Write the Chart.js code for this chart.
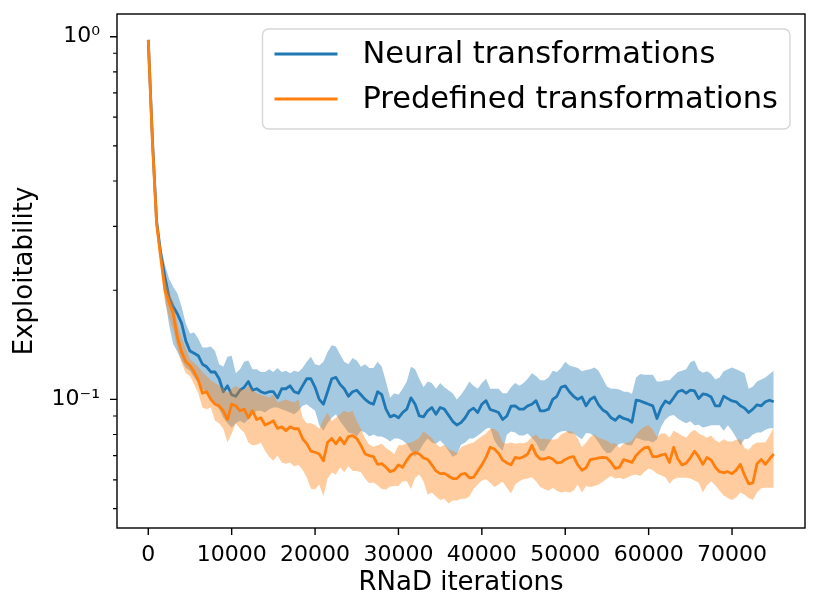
<!DOCTYPE html>
<html>
<head>
<meta charset="utf-8">
<script src="https://cdn.jsdelivr.net/npm/chart.js@4.4.1/dist/chart.umd.min.js"></script>
<style>
  html, body { margin: 0; padding: 0; background: #fff; }
  #chart { display: block; }
</style>
</head>
<body>
<canvas id="chart" width="822" height="613"></canvas>
<script>
// RNaD iteration of every logged point
const ITERATIONS = [
  0, 500, 1000, 1500, 2000, 2500, 3000, 3500, 4000, 4500,
  5000, 5500, 6000, 6500, 7000, 7500, 8000, 8500, 9000, 9500,
  10000, 10500, 11000, 11500, 12000, 12500, 13000, 13500, 14000, 14500,
  15000, 15500, 16000, 16500, 17000, 17500, 18000, 18500, 19000, 19500,
  20000, 20500, 21000, 21500, 22000, 22500, 23000, 23500, 24000, 24500,
  25000, 25500, 26000, 26500, 27000, 27500, 28000, 28500, 29000, 29500,
  30000, 30500, 31000, 31500, 32000, 32500, 33000, 33500, 34000, 34500,
  35000, 35500, 36000, 36500, 37000, 37500, 38000, 38500, 39000, 39500,
  40000, 40500, 41000, 41500, 42000, 42500, 43000, 43500, 44000, 44500,
  45000, 45500, 46000, 46500, 47000, 47500, 48000, 48500, 49000, 49500,
  50000, 50500, 51000, 51500, 52000, 52500, 53000, 53500, 54000, 54500,
  55000, 55500, 56000, 56500, 57000, 57500, 58000, 58500, 59000, 59500,
  60000, 60500, 61000, 61500, 62000, 62500, 63000, 63500, 64000, 64500,
  65000, 65500, 66000, 66500, 67000, 67500, 68000, 68500, 69000, 69500,
  70000, 70500, 71000, 71500, 72000, 72500, 73000, 73500, 74000, 74500,
  75000
];

const NEURAL_MEAN = [
  0.98, 0.52, 0.31, 0.252, 0.217, 0.191, 0.18, 0.172, 0.162, 0.145,
  0.136, 0.134, 0.132, 0.125, 0.123, 0.119, 0.119, 0.114, 0.105, 0.109,
  0.103, 0.102, 0.106, 0.108, 0.112, 0.106, 0.107, 0.105, 0.104, 0.105,
  0.105, 0.101, 0.107, 0.107, 0.109, 0.105, 0.104, 0.109, 0.114, 0.114,
  0.108, 0.100, 0.097, 0.105, 0.114, 0.115, 0.110, 0.107, 0.102, 0.105,
  0.106, 0.103, 0.100, 0.098, 0.097, 0.105, 0.103, 0.094, 0.0895, 0.0905,
  0.089, 0.092, 0.094, 0.101, 0.097, 0.090, 0.0895, 0.093, 0.095, 0.091,
  0.095, 0.094, 0.0905, 0.087, 0.085, 0.0863, 0.089, 0.093, 0.0946, 0.092,
  0.097, 0.0992, 0.0938, 0.093, 0.092, 0.088, 0.090, 0.0958, 0.096, 0.094,
  0.094, 0.096, 0.097, 0.0992, 0.093, 0.093, 0.094, 0.100, 0.102, 0.108,
  0.109, 0.105, 0.102, 0.100, 0.1015, 0.096, 0.100, 0.1015, 0.0966, 0.0935,
  0.092, 0.089, 0.0876, 0.090, 0.0886, 0.088, 0.0865, 0.0995, 0.099, 0.098,
  0.097, 0.096, 0.0886, 0.095, 0.099, 0.0975, 0.101, 0.105, 0.106, 0.104,
  0.106, 0.1055, 0.1005, 0.1035, 0.103, 0.1015, 0.096, 0.096, 0.102, 0.1005,
  0.099, 0.0985, 0.096, 0.0946, 0.092, 0.094, 0.0966, 0.096, 0.0985, 0.0995,
  0.0985
];
const NEURAL_UPPER = [
  0.985, 0.54, 0.325, 0.265, 0.235, 0.215, 0.204, 0.196, 0.18, 0.162,
  0.152, 0.153, 0.147, 0.139, 0.139, 0.14, 0.136, 0.125, 0.123, 0.131,
  0.132, 0.118, 0.121, 0.127, 0.128, 0.121, 0.121, 0.119, 0.119, 0.121,
  0.119, 0.122, 0.119, 0.12, 0.118, 0.12, 0.119, 0.122, 0.127, 0.131,
  0.125, 0.124, 0.127, 0.135, 0.141, 0.14, 0.133, 0.127, 0.125, 0.13,
  0.128, 0.123, 0.125, 0.122, 0.122, 0.127, 0.123, 0.112, 0.101, 0.104,
  0.103, 0.107, 0.112, 0.123, 0.121, 0.114, 0.108, 0.112, 0.111, 0.107,
  0.111, 0.108, 0.106, 0.104, 0.1, 0.103, 0.107, 0.112, 0.109, 0.107,
  0.111, 0.114, 0.107, 0.107, 0.107, 0.104, 0.104, 0.108, 0.111, 0.109,
  0.111, 0.114, 0.118, 0.116, 0.113, 0.113, 0.115, 0.12, 0.119, 0.122,
  0.127, 0.124, 0.123, 0.122, 0.1195, 0.1205, 0.121, 0.1225, 0.12, 0.114,
  0.1085, 0.107, 0.107, 0.1065, 0.105, 0.105, 0.1035, 0.115, 0.1175, 0.117,
  0.117, 0.117, 0.112, 0.112, 0.113, 0.113, 0.116, 0.119, 0.12, 0.121,
  0.1265, 0.128, 0.1205, 0.1185, 0.1195, 0.1175, 0.1135, 0.115, 0.1195, 0.121,
  0.1225, 0.121, 0.1195, 0.118, 0.107, 0.1085, 0.112, 0.1135, 0.115, 0.1175,
  0.12
];
const NEURAL_LOWER = [
  0.975, 0.50, 0.298, 0.24, 0.19, 0.16, 0.142, 0.135, 0.128, 0.122,
  0.12, 0.115, 0.111, 0.107, 0.104, 0.1, 0.097, 0.094, 0.089, 0.086,
  0.0837, 0.086, 0.0873, 0.086, 0.088, 0.091, 0.093, 0.093, 0.092, 0.094,
  0.095, 0.095, 0.094, 0.093, 0.092, 0.091, 0.093, 0.096, 0.097, 0.095,
  0.093, 0.085, 0.082, 0.086, 0.089, 0.091, 0.087, 0.084, 0.081, 0.0805,
  0.079, 0.082, 0.081, 0.079, 0.08, 0.079, 0.079, 0.078, 0.0765, 0.078,
  0.078, 0.077, 0.0754, 0.0722, 0.0695, 0.0722, 0.0754, 0.078, 0.076, 0.0754,
  0.077, 0.075, 0.0722, 0.0695, 0.0705, 0.075, 0.076, 0.078, 0.078, 0.0795,
  0.081, 0.083, 0.0835, 0.077, 0.074, 0.0722, 0.08, 0.0815, 0.081, 0.0795,
  0.0795, 0.0805, 0.0784, 0.076, 0.0722, 0.0722, 0.0754, 0.0784, 0.0805, 0.0815,
  0.082, 0.0805, 0.0805, 0.079, 0.0776, 0.0808, 0.0805, 0.079, 0.076, 0.073,
  0.071, 0.0714, 0.0738, 0.0754, 0.0757, 0.0747, 0.0747, 0.0784, 0.0776, 0.0769,
  0.0769, 0.076, 0.0776, 0.084, 0.088, 0.09, 0.0905, 0.0886, 0.087, 0.086,
  0.087, 0.0848, 0.0852, 0.0836, 0.0842, 0.0848, 0.0848, 0.0848, 0.082, 0.0848,
  0.082, 0.0784, 0.0747, 0.0776, 0.078, 0.08, 0.081, 0.081, 0.0825, 0.0832,
  0.0832
];

const PREDEFINED_MEAN = [
  0.98, 0.51, 0.305, 0.245, 0.2, 0.185, 0.172, 0.148, 0.135, 0.127,
  0.124, 0.119, 0.113, 0.104, 0.105, 0.1, 0.097, 0.096, 0.093, 0.088,
  0.097, 0.096, 0.093, 0.094, 0.089, 0.093, 0.088, 0.089, 0.085, 0.086,
  0.0873, 0.0832, 0.084, 0.082, 0.084, 0.083, 0.083, 0.078, 0.0755, 0.072,
  0.0715, 0.0707, 0.0677, 0.0762, 0.078, 0.0754, 0.0784, 0.0754, 0.079, 0.0795,
  0.078, 0.0747, 0.0707, 0.07, 0.0695, 0.0662, 0.0665, 0.065, 0.0632, 0.0638,
  0.066, 0.065, 0.068, 0.0704, 0.0714, 0.0707, 0.069, 0.0683, 0.066, 0.0635,
  0.0624, 0.0625, 0.0615, 0.0605, 0.0605, 0.0621, 0.0625, 0.0608, 0.061, 0.0635,
  0.066, 0.0692, 0.0738, 0.073, 0.071, 0.068, 0.0668, 0.066, 0.0692, 0.0688,
  0.0695, 0.0707, 0.0747, 0.0704, 0.0685, 0.0685, 0.0692, 0.0685, 0.0668, 0.067,
  0.0683, 0.0692, 0.0695, 0.066, 0.0638, 0.0648, 0.0682, 0.0685, 0.069, 0.0692,
  0.069, 0.067, 0.0645, 0.065, 0.0682, 0.0677, 0.067, 0.07, 0.072, 0.0735,
  0.0738, 0.0695, 0.0695, 0.0702, 0.0707, 0.067, 0.0738, 0.0685, 0.066, 0.0667,
  0.069, 0.072, 0.0695, 0.0662, 0.0692, 0.068, 0.065, 0.0632, 0.0628, 0.0632,
  0.0624, 0.0638, 0.0662, 0.0618, 0.0585, 0.0589, 0.0665, 0.0683, 0.0662, 0.0685,
  0.0707
];
const PREDEFINED_UPPER = [
  0.985, 0.53, 0.318, 0.26, 0.215, 0.198, 0.185, 0.162, 0.148, 0.138,
  0.129, 0.126, 0.123, 0.119, 0.116, 0.113, 0.111, 0.109, 0.107, 0.104,
  0.107, 0.109, 0.107, 0.106, 0.109, 0.106, 0.104, 0.103, 0.102, 0.101,
  0.103, 0.098, 0.099, 0.1, 0.099, 0.098, 0.1, 0.089, 0.086, 0.086,
  0.085, 0.083, 0.088, 0.092, 0.087, 0.089, 0.091, 0.093, 0.092, 0.093,
  0.087, 0.083, 0.078, 0.075, 0.074, 0.0747, 0.0755, 0.0735, 0.0722, 0.0707,
  0.0747, 0.0747, 0.0757, 0.076, 0.077, 0.0784, 0.0815, 0.08, 0.0784, 0.0754,
  0.0738, 0.075, 0.073, 0.0722, 0.071, 0.0738, 0.0747, 0.0754, 0.076, 0.0776,
  0.0792, 0.0805, 0.083, 0.083, 0.081, 0.076, 0.0754, 0.076, 0.0754, 0.0758,
  0.0757, 0.0765, 0.0788, 0.08, 0.0776, 0.078, 0.0775, 0.0775, 0.0776, 0.08,
  0.081, 0.082, 0.081, 0.078, 0.0738, 0.076, 0.0788, 0.08, 0.0784, 0.0776,
  0.0769, 0.0754, 0.0758, 0.0735, 0.0754, 0.076, 0.0769, 0.08, 0.0825, 0.0842,
  0.0848, 0.0825, 0.0788, 0.0805, 0.0805, 0.0784, 0.082, 0.0808, 0.0795, 0.0784,
  0.081, 0.0825, 0.0805, 0.0795, 0.0784, 0.0795, 0.0772, 0.076, 0.0776, 0.0765,
  0.0765, 0.0774, 0.0776, 0.0735, 0.0725, 0.075, 0.076, 0.076, 0.076, 0.0795,
  0.0836
];
const PREDEFINED_LOWER = [
  0.975, 0.49, 0.292, 0.235, 0.185, 0.168, 0.155, 0.138, 0.126, 0.118,
  0.116, 0.11, 0.104, 0.095, 0.094, 0.095, 0.0873, 0.086, 0.083, 0.076,
  0.0805, 0.086, 0.083, 0.081, 0.076, 0.0747, 0.075, 0.076, 0.0722, 0.0695,
  0.0677, 0.07, 0.067, 0.0665, 0.067, 0.0653, 0.066, 0.064, 0.0609, 0.0567,
  0.0565, 0.0583, 0.0541, 0.0604, 0.063, 0.062, 0.065, 0.063, 0.0655, 0.0635,
  0.0635, 0.063, 0.0604, 0.0587, 0.059, 0.058, 0.0566, 0.0564, 0.0575, 0.0577,
  0.0577, 0.0595, 0.0595, 0.0566, 0.0608, 0.0621, 0.0595, 0.0546, 0.0554, 0.054,
  0.0528, 0.0532, 0.0516, 0.0526, 0.0526, 0.0532, 0.0532, 0.054, 0.0566, 0.0583,
  0.0598, 0.0602, 0.0589, 0.0573, 0.0583, 0.0593, 0.0571, 0.055, 0.0583, 0.0595,
  0.0602, 0.0605, 0.061, 0.0595, 0.0573, 0.0566, 0.056, 0.0571, 0.056, 0.0554,
  0.0557, 0.0554, 0.056, 0.0583, 0.0554, 0.0577, 0.0573, 0.0577, 0.0583, 0.0593,
  0.0605, 0.0615, 0.0605, 0.0608, 0.0602, 0.061, 0.0618, 0.0621, 0.0615, 0.0632,
  0.0645, 0.0638, 0.0624, 0.0618, 0.061, 0.0585, 0.0602, 0.0608, 0.0608, 0.0608,
  0.0605, 0.0598, 0.0589, 0.0554, 0.058, 0.0595, 0.058, 0.056, 0.0543, 0.0535,
  0.0528, 0.0537, 0.0554, 0.0546, 0.0535, 0.0528, 0.0554, 0.0569, 0.0571, 0.0571,
  0.0571
];

const SERIES_NAMES = ['Neural transformations', 'Predefined transformations'];
const X_TICKS = [0, 10000, 20000, 30000, 40000, 50000, 60000, 70000];
const Y_MAJOR_TICKS = [0.1, 1];
const Y_MINOR_TICKS = [0.05, 0.06, 0.07, 0.08, 0.09, 0.2, 0.3, 0.4, 0.5, 0.6, 0.7, 0.8, 0.9];
const Y_TICK_LABELS = {'0.1': '10\u207B\u00B9', '1': '10\u2070'};

const BLUE = '#1f77b4';
const ORANGE = '#ff7f0e';
const BLUE_BAND = 'rgba(31, 119, 180, 0.4)';
const ORANGE_BAND = 'rgba(255, 127, 14, 0.4)';
const FONT = "'DejaVu Sans', Verdana, sans-serif";

function points(values) {
  return ITERATIONS.map((x, i) => ({x: x, y: values[i]}));
}

function band(values, color, fill, order) {
  return {
    data: points(values),
    borderWidth: 0,
    pointRadius: 0,
    backgroundColor: color,
    fill: fill,
    order: order
  };
}

function line(label, values, color, order) {
  return {
    label: label,
    data: points(values),
    borderColor: color,
    borderWidth: 2.8,
    borderJoinStyle: 'round',
    pointRadius: 0,
    tension: 0,
    fill: false,
    order: order
  };
}

// drop the half-label margins chart.js adds, so the plot box sits where matplotlib put it
function noEdgePadding(scale) {
  scale.paddingTop = 0;
  scale.paddingBottom = 0;
  scale.paddingLeft = 0;
  scale.paddingRight = 0;
}

// frame, tick marks and the legend box, drawn like matplotlib does
const axesDecor = {
  id: 'axesDecor',
  afterDraw(chart) {
    const ctx = chart.ctx;
    const area = chart.chartArea;
    const x = chart.scales.x;
    const y = chart.scales.y;
    ctx.save();
    ctx.strokeStyle = '#000';

    ctx.lineWidth = 1.4;
    ctx.beginPath();
    X_TICKS.forEach(v => {
      const px = x.getPixelForValue(v);
      ctx.moveTo(px, area.bottom);
      ctx.lineTo(px, area.bottom + 7);
    });
    Y_MAJOR_TICKS.forEach(v => {
      const py = y.getPixelForValue(v);
      ctx.moveTo(area.left, py);
      ctx.lineTo(area.left - 7, py);
    });
    ctx.stroke();

    ctx.lineWidth = 1.1;
    ctx.beginPath();
    Y_MINOR_TICKS.forEach(v => {
      const py = y.getPixelForValue(v);
      ctx.moveTo(area.left, py);
      ctx.lineTo(area.left - 4, py);
    });
    ctx.stroke();

    ctx.lineWidth = 1.4;
    ctx.strokeRect(area.left, area.top, area.right - area.left, area.bottom - area.top);

    // legend
    const fontSize = 30.5;
    ctx.font = fontSize + 'px ' + FONT;
    const textW = Math.max(...SERIES_NAMES.map(s => ctx.measureText(s).width));
    const pad = 12, handle = 63, gap = 25, rowH = 45;
    const boxW = pad + handle + gap + textW + pad;
    const boxH = 100;
    const boxR = area.right - 15;
    const boxL = boxR - boxW;
    const boxT = area.top + 15;
    ctx.beginPath();
    ctx.roundRect(boxL, boxT, boxW, boxH, 6);
    ctx.fillStyle = 'rgba(255,255,255,0.8)';
    ctx.fill();
    ctx.strokeStyle = '#d6d6d6';
    ctx.lineWidth = 1.4;
    ctx.stroke();

    const colors = [BLUE, ORANGE];
    ctx.textBaseline = 'middle';
    ctx.textAlign = 'left';
    SERIES_NAMES.forEach((name, i) => {
      const cy = boxT + 25 + i * rowH;
      ctx.strokeStyle = colors[i];
      ctx.lineWidth = 2.8;
      ctx.beginPath();
      ctx.moveTo(boxL + pad, cy);
      ctx.lineTo(boxL + pad + handle, cy);
      ctx.stroke();
      ctx.fillStyle = '#000';
      ctx.fillText(name, boxL + pad + handle + gap, cy + 1);
    });
    ctx.restore();
  }
};

new Chart(document.getElementById('chart'), {
  type: 'line',
  data: {
    datasets: [
      band(NEURAL_UPPER, BLUE_BAND, '+1', 4),
      band(NEURAL_LOWER, BLUE_BAND, false, 4),
      line(SERIES_NAMES[0], NEURAL_MEAN, BLUE, 3),
      band(PREDEFINED_UPPER, ORANGE_BAND, '+1', 2),
      band(PREDEFINED_LOWER, ORANGE_BAND, false, 2),
      line(SERIES_NAMES[1], PREDEFINED_MEAN, ORANGE, 1)
    ]
  },
  options: {
    responsive: false,
    animation: false,
    events: [],
    layout: {padding: {left: 0, right: 17, top: 14, bottom: 0}},
    plugins: {
      legend: {display: false},
      tooltip: {enabled: false}
    },
    scales: {
      x: {
        type: 'linear',
        min: -3750,
        max: 78750,
        afterBuildTicks: scale => { scale.ticks = X_TICKS.map(v => ({value: v})); },
        afterFit: scale => { scale.height = 85; noEdgePadding(scale); },
        grid: {display: true, drawOnChartArea: false, drawTicks: true, tickLength: 7, tickColor: 'rgba(0,0,0,0)'},
        border: {display: false},
        ticks: {
          autoSkip: false,
          maxRotation: 0,
          padding: 7,
          color: '#000',
          font: {family: FONT, size: 22},
          callback: v => String(v)
        },
        title: {
          display: true,
          text: 'RNaD iterations',
          color: '#000',
          font: {family: FONT, size: 26},
          padding: {top: 0, bottom: 14}
        }
      },
      y: {
        type: 'logarithmic',
        min: 0.0442,
        max: 1.155,
        afterBuildTicks: scale => {
          scale.ticks = Y_MINOR_TICKS.concat(Y_MAJOR_TICKS).sort((a, b) => a - b).map(v => ({value: v}));
        },
        afterFit: scale => { scale.width = 117; noEdgePadding(scale); },
        grid: {display: true, drawOnChartArea: false, drawTicks: true, tickLength: 7, tickColor: 'rgba(0,0,0,0)'},
        border: {display: false},
        ticks: {
          autoSkip: false,
          padding: 10,
          color: '#000',
          font: {family: FONT, size: 22},
          callback: v => Y_TICK_LABELS[String(v)] || ''
        },
        title: {
          display: true,
          text: 'Exploitability',
          color: '#000',
          font: {family: FONT, size: 26},
          padding: {top: 10, bottom: 0}
        }
      }
    }
  },
  plugins: [axesDecor]
});
</script>
</body>
</html>
